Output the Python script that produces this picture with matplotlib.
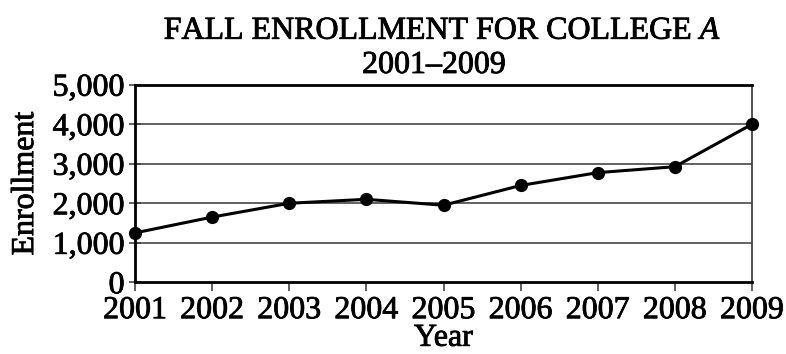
import matplotlib
matplotlib.use("Agg")
import matplotlib.pyplot as plt
import matplotlib.patheffects as pe

years = [2001, 2002, 2003, 2004, 2005, 2006, 2007, 2008, 2009]
enrollment = [1250, 1650, 2000, 2100, 1950, 2450, 2775, 2925, 4000]
yticks = [0, 1000, 2000, 3000, 4000, 5000]
ytick_labels = ["0", "1,000", "2,000", "3,000", "4,000", "5,000"]

plt.rcParams['font.family'] = ['Liberation Serif', 'DejaVu Serif']
plt.rcParams['mathtext.fontset'] = 'custom'
plt.rcParams['mathtext.rm'] = 'Liberation Serif'
plt.rcParams['mathtext.it'] = 'Liberation Serif:italic'

thick = [pe.withStroke(linewidth=0.6, foreground='black')]

fig = plt.figure(figsize=(7.86, 3.54), dpi=100)
ax = fig.add_axes([135/786, 1-282.3/354, (752-135)/786, (282.3-84.7)/354])

ax.set_xlim(2001, 2009)
ax.set_ylim(0, 5000)
ax.set_yticks(yticks)
ax.set_yticklabels(ytick_labels)
ax.set_xticks(years)
ax.set_xticklabels([str(y) for y in years])

for v in yticks[1:-1]:
    ax.axhline(v, color='#555555', lw=1.3, zorder=1)

ax.plot(years, enrollment, color='black', lw=2.2, marker='o', markersize=8.5,
        zorder=3, clip_on=False)

for s in ['left', 'bottom', 'top']:
    ax.spines[s].set_linewidth(2.0)
    ax.spines[s].set_color('black')
ax.spines['right'].set_linewidth(1.3)
ax.spines['right'].set_color('#444444')

ax.tick_params(axis='y', direction='inout', length=9, width=1.2, color='#444444',
               labelsize=23, pad=3)
ax.tick_params(axis='x', direction='out', length=6.5, width=1.2, color='#444444',
               labelsize=23, pad=3.5)

for lab in ax.get_xticklabels() + ax.get_yticklabels():
    lab.set_path_effects(thick)

ax.set_xlabel("Year", fontsize=23, labelpad=-1, path_effects=thick)
ax.set_ylabel("Enrollment", fontsize=23, labelpad=9, path_effects=thick)

fig.text(443/786, 1-39/354, "FALL ENROLLMENT FOR COLLEGE $\\mathit{A}$", ha='center',
         va='baseline', fontsize=23, path_effects=thick)
fig.text(434/786, 1-73/354, "2001–2009", ha='center', va='baseline', fontsize=23,
         path_effects=thick)

fig.savefig("out.png", dpi=100)
